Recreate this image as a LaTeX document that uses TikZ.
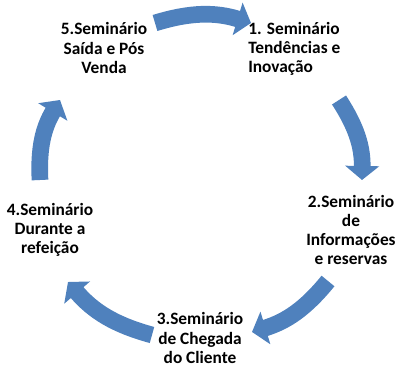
\documentclass[tikz,border=0pt]{standalone}
\usepackage{fontspec}
\setmainfont{Carlito}
\usetikzlibrary{arrows.meta}
\definecolor{arrowblue}{RGB}{79,129,189}
\tikzset{
  cyclearrow/.style={draw=arrowblue, line width=12.5pt, line cap=butt,
    -{Triangle[width=25pt,length=10.5pt]}},
  steplabel/.style={font=\fontsize{13}{14.3}\selectfont\bfseries, text=black,
    align=center, inner sep=0pt}
}
\begin{document}
\begin{tikzpicture}[x=0.75pt,y=0.75pt]
\useasboundingbox (0,0) rectangle (400,367);
% labels
\node[steplabel, anchor=west, align=left] (s1) at (248,318) {1. Seminário\\Tendências e\\Inovação};
\node[steplabel] (s2) at (351,137) {2.Seminário\\de\\Informações\\e reservas};
\node[steplabel] (s3) at (200,29) {3.Seminário\\de Chegada\\do Cliente};
\node[steplabel] (s4) at (50,137) {4.Seminário\\Durante a\\refeição};
\node[steplabel] (s5) at (104,319) {5.Seminário\\Saída e Pós\\Venda};
% arrow ends
\coordinate (a1s) at (155,344); \coordinate (a1e) at (251,344);
\coordinate (a2s) at (339,267); \coordinate (a2e) at (362,187);
\coordinate (a3s) at (328,86);  \coordinate (a3e) at (252,35);
\coordinate (a4s) at (152,32);  \coordinate (a4e) at (68,85);
\coordinate (a5s) at (40,187);  \coordinate (a5e) at (60,267);
% arrows
\draw[cyclearrow] (a1s) to[bend left=17] (a1e);
\draw[cyclearrow] (a2s) to[bend left=17] (a2e);
\draw[cyclearrow] (a3s) to[bend left=17] (a3e);
\draw[cyclearrow] (a4s) to[bend left=17] (a4e);
\draw[cyclearrow] (a5s) to[bend left=17] (a5e);
\end{tikzpicture}
\end{document}
